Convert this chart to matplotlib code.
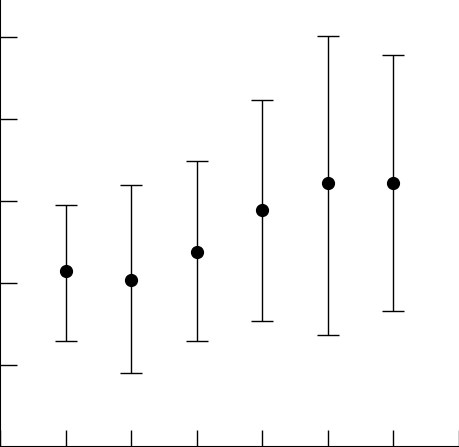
import matplotlib
matplotlib.use('Agg')
import matplotlib.pyplot as plt
import numpy as np

x = [1, 2, 3, 4, 5, 6]
means = [2.14, 2.04, 2.38, 2.89, 3.21, 3.22]
highs = [2.95, 3.19, 3.48, 4.23, 5.01, 4.77]
lows = [1.29, 0.90, 1.29, 1.53, 1.37, 1.66]

xticks = [0, 1, 2, 3, 4, 5, 6, 7]
yticks = [0, 1, 2, 3, 4, 5]

m = np.array(means)
err = [m - np.array(lows), np.array(highs) - m]

fig = plt.figure(figsize=(4.6, 4.47), dpi=100)
ax = fig.add_axes([0, 0, 1, 1])

ax.errorbar(x, means, yerr=err, fmt='o', color='black', ecolor='black',
            markersize=8.5, elinewidth=1, capsize=8, capthick=1)

ax.set_xlim(0, 460 / 65.5)
ax.set_ylim(0, 446.5 / 82)
ax.set_xticks(xticks)
ax.set_yticks(yticks)
ax.tick_params(direction='in', length=12, width=1, labelbottom=False, labelleft=False)

ax.spines['top'].set_visible(False)
ax.spines['right'].set_visible(False)
ax.spines['left'].set_linewidth(1.5)
ax.spines['bottom'].set_linewidth(1.5)

fig.savefig('out.png', dpi=100)
